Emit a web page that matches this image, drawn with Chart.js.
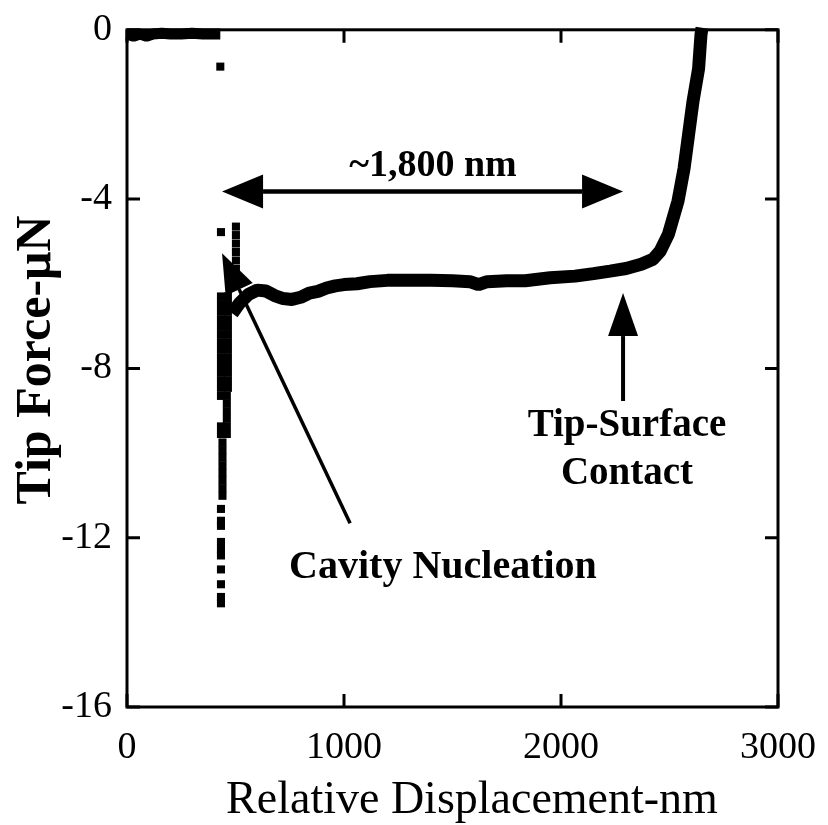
<!DOCTYPE html>
<html lang="en">
<head>
  <meta charset="utf-8" />
  <title>Tip force vs displacement</title>
  <script src="https://cdn.jsdelivr.net/npm/chart.js@4.4.1/dist/chart.umd.min.js"></script>
  <style>
    * { margin: 0; padding: 0; box-sizing: border-box; }
    body { background: #ffffff; width: 828px; height: 825px; overflow: hidden; }
    #wrap { position: relative; width: 828px; height: 825px; }
  </style>
</head>
<body>
  <div id="wrap">
    <canvas id="chart" width="828" height="825"></canvas>
  </div>
  <script>
    // axis ticks
    const xTicks = [0, 1000, 2000, 3000];
    const yTicks = [-16, -12, -8, -4, 0];

    // approach: flat line near zero force
    const approachX = [0, 30, 60, 90, 120, 160, 200, 250, 300, 350, 400, 430];
    const approachF = [-0.1, -0.15, -0.1, -0.15, -0.1, -0.08, -0.1, -0.1, -0.08, -0.1, -0.1, -0.1];

    // retract: plateau after cavity nucleation, then rise to tip-surface contact
    const retractX = [485, 520, 560, 600, 640, 680, 720, 760, 800, 840, 880, 920, 960, 1000, 1060, 1120, 1200, 1300, 1400, 1500, 1580, 1620, 1660, 1750, 1835, 1950, 2065, 2150, 2226, 2300, 2370, 2424, 2457, 2495, 2539, 2567, 2588, 2608, 2634, 2645, 2650];
    const retractF = [-6.7, -6.45, -6.25, -6.15, -6.17, -6.28, -6.35, -6.37, -6.32, -6.22, -6.18, -6.1, -6.05, -6.02, -6.0, -5.95, -5.92, -5.92, -5.92, -5.93, -5.95, -6.02, -5.95, -5.93, -5.93, -5.86, -5.82, -5.76, -5.7, -5.64, -5.54, -5.42, -5.23, -4.83, -4.05, -3.28, -2.47, -1.7, -0.92, -0.12, 0.05];

    // scattered points around the snap-off at ~430-500 nm
    const cavityX = [430, 433,
      502, 502, 502, 502, 502, 502, 502, 502,
      433, 433, 433, 433, 433, 433, 433, 433, 433, 433, 433, 433, 433,
      465, 465, 465, 465, 465, 465, 465, 465, 465, 465, 465, 465, 465,
      433, 433, 433,
      460, 460, 460, 460, 460, 460,
      440, 440, 440, 440, 440, 440, 440, 440,
      433, 433, 433, 433, 433, 433, 433, 433, 433, 433];
    const cavityF = [-0.87, -4.78,
      -4.65, -4.85, -5.05, -5.25, -5.45, -5.65, -5.85, -6.05,
      -6.3, -6.48, -6.66, -6.84, -7.02, -7.2, -7.38, -7.56, -7.74, -7.92, -8.1, -8.28, -8.46,
      -6.3, -6.48, -6.66, -6.84, -7.02, -7.2, -7.38, -7.56, -7.74, -7.92, -8.1, -8.28, -8.46,
      -8.65, -9.37, -9.55,
      -8.65, -8.83, -9.01, -9.19, -9.37, -9.55,
      -9.75, -9.93, -10.11, -10.29, -10.47, -10.65, -10.83, -11.01,
      -11.32, -11.6, -11.72, -12.1, -12.28, -12.42, -12.75, -13.1, -13.4, -13.55];

    const toPoints = (xs, ys) => xs.map((x, i) => ({ x: x, y: ys[i] }));

    const serif = "'Liberation Serif', 'Times New Roman', serif";

    // filled arrow head at (tx,ty) pointing away from (fx,fy)
    function arrowHead(ctx, fx, fy, tx, ty, len, half) {
      const d = Math.hypot(tx - fx, ty - fy);
      const ux = (tx - fx) / d, uy = (ty - fy) / d;
      const bx = tx - ux * len, by = ty - uy * len;
      ctx.beginPath();
      ctx.moveTo(tx, ty);
      ctx.lineTo(bx - uy * half, by + ux * half);
      ctx.lineTo(bx + uy * half, by - ux * half);
      ctx.closePath();
      ctx.fill();
      return [bx, by];
    }

    const framePlugin = {
      id: "frame",
      afterDraw(chart) {
        const ctx = chart.ctx;
        const a = chart.chartArea;
        const xs = chart.scales.x, ys = chart.scales.y;
        ctx.save();
        ctx.strokeStyle = "#000";
        ctx.fillStyle = "#000";
        ctx.lineWidth = 3;
        ctx.strokeRect(a.left, a.top, a.right - a.left, a.bottom - a.top);

        // inward ticks on all four sides
        const tl = 13;
        ctx.beginPath();
        xTicks.forEach(v => {
          const p = xs.getPixelForValue(v);
          ctx.moveTo(p, a.bottom); ctx.lineTo(p, a.bottom - tl);
          ctx.moveTo(p, a.top); ctx.lineTo(p, a.top + tl);
        });
        yTicks.forEach(v => {
          const p = ys.getPixelForValue(v);
          ctx.moveTo(a.left, p); ctx.lineTo(a.left + tl, p);
          ctx.moveTo(a.right, p); ctx.lineTo(a.right - tl, p);
        });
        ctx.stroke();

        // axis titles
        ctx.textAlign = "center";
        ctx.textBaseline = "alphabetic";
        ctx.font = "46px " + serif;
        ctx.fillText("Relative Displacement-nm", 472, 813);
        ctx.save();
        ctx.translate(50, 360);
        ctx.rotate(-Math.PI / 2);
        ctx.font = "bold 50px " + serif;
        ctx.fillText("Tip Force-\u03bcN", 0, 0);
        ctx.restore();

        const X = v => xs.getPixelForValue(v);
        const Y = v => ys.getPixelForValue(v);

        // span arrow
        ctx.lineWidth = 4.5;
        const y1 = Y(-3.82);
        const l = arrowHead(ctx, X(2286), y1, X(438), y1, 41, 17);
        const r = arrowHead(ctx, X(438), y1, X(2286), y1, 41, 17);
        ctx.beginPath(); ctx.moveTo(l[0], y1); ctx.lineTo(r[0], y1); ctx.stroke();
        ctx.font = "bold 38px " + serif;
        ctx.fillText("~1,800 nm", X(1410), Y(-3.46));

        // contact arrow
        ctx.lineWidth = 4;
        const c = arrowHead(ctx, X(2286), Y(-8.77), X(2286), Y(-6.22), 43, 15);
        ctx.beginPath(); ctx.moveTo(X(2286), Y(-8.77)); ctx.lineTo(c[0], c[1]); ctx.stroke();
        ctx.font = "bold 39px " + serif;
        ctx.fillText("Tip-Surface", X(2304), Y(-9.59));
        ctx.fillText("Contact", X(2304), Y(-10.72));

        // cavity arrow
        ctx.lineWidth = 3.5;
        const k = arrowHead(ctx, X(1028), Y(-11.66), X(438), Y(-5.28), 40, 15);
        ctx.beginPath(); ctx.moveTo(X(1028), Y(-11.66)); ctx.lineTo(k[0], k[1]); ctx.stroke();
        ctx.font = "bold 40px " + serif;
        ctx.fillText("Cavity Nucleation", X(1456), Y(-12.96));
        ctx.restore();
      }
    };

    new Chart(document.getElementById("chart"), {
      type: "scatter",
      data: {
        datasets: [
          {
            data: toPoints(approachX, approachF),
            showLine: true,
            borderColor: "#000",
            borderWidth: 11,
            borderJoinStyle: "bevel",
            pointRadius: 0,
            clip: false
          },
          {
            data: toPoints(retractX, retractF),
            showLine: true,
            borderColor: "#000",
            borderWidth: 13,
            borderJoinStyle: "bevel",
            pointRadius: 0,
            clip: false
          },
          {
            data: toPoints(cavityX, cavityF),
            showLine: false,
            pointStyle: "rect",
            pointRadius: 5.7,
            backgroundColor: "#000",
            borderWidth: 0,
            clip: false
          }
        ]
      },
      options: {
        responsive: false,
        animation: false,
        events: [],
        layout: { padding: { top: 28, right: 50, left: 0, bottom: 0 } },
        plugins: { legend: { display: false }, tooltip: { enabled: false } },
        scales: {
          x: {
            type: "linear",
            min: 0,
            max: 3000,
            afterFit: s => { s.height = 118; },
            afterBuildTicks: s => { s.ticks = xTicks.map(v => ({ value: v })); },
            grid: { display: false },
            border: { display: false },
            ticks: { color: "#000", padding: 10, maxRotation: 0, font: { family: serif, size: 38 }, callback: v => String(v) }
          },
          y: {
            type: "linear",
            min: -16,
            max: 0,
            afterFit: s => { s.width = 127; },
            afterBuildTicks: s => { s.ticks = yTicks.map(v => ({ value: v })); },
            grid: { display: false },
            border: { display: false },
            ticks: { color: "#000", padding: 7, font: { family: serif, size: 38 }, callback: v => String(v) }
          }
        }
      },
      plugins: [framePlugin]
    });
  </script>
</body>
</html>
